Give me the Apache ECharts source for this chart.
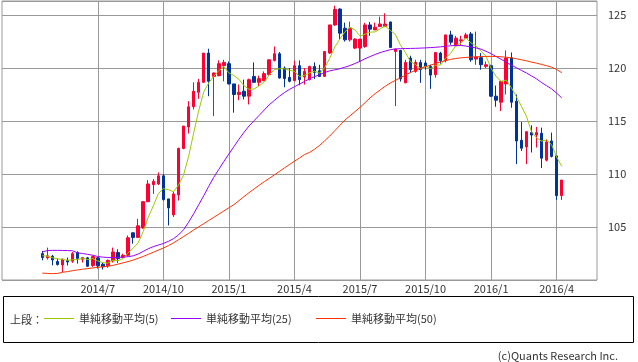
<!DOCTYPE html>
<html><head><meta charset="utf-8">
<script src="https://cdn.jsdelivr.net/npm/echarts@6/dist/echarts.min.js"></script>
<style>html,body{margin:0;padding:0;background:#fff}#c{width:638px;height:362px}</style>
</head><body><div id="c"></div>
<script>
// ---- data (weekly candles) ----
const tickIndex = [11, 24, 37, 50, 63, 76, 89, 102];
const tickLabels = ['2014/7', '2014/10', '2015/1', '2015/4', '2015/7', '2015/10', '2016/1', '2016/4'];

const open = [
102.49,102.09,102.24,101.74,101.41,101.84,101.77,102.59,101.96,102.09,
101.37,102.09,101.49,101.34,101.81,102.59,102.12,102.33,104.46,104.02,
104.91,107.40,109.00,109.07,109.84,107.66,106.15,108.03,112.42,114.45,
116.36,117.73,118.67,121.43,119.23,119.30,120.24,120.43,118.52,117.52,
117.83,117.36,119.23,118.67,118.83,119.39,120.74,121.37,120.02,119.14,
118.83,120.24,119.18,118.92,120.17,119.77,119.23,121.43,124.09,125.59,
123.78,122.68,121.90,121.90,122.05,124.09,123.62,123.93,123.93,124.37,
121.58,121.68,118.62,120.96,119.70,120.55,120.49,120.17,119.39,121.43,
120.71,123.15,122.12,122.59,122.84,123.24,120.87,121.00,120.17,120.24,
117.36,116.79,118.52,120.99,116.89,113.20,112.57,113.92,113.69,113.85,
111.32,113.13,111.72,107.97];
const close = [
102.12,102.28,101.90,101.46,101.98,101.70,102.49,102.04,102.12,101.30,
102.21,101.34,101.24,101.86,102.65,102.02,102.33,103.99,104.02,105.12,
107.40,109.07,109.32,109.84,107.59,106.81,108.13,112.42,114.54,116.36,
117.83,118.67,121.43,118.77,119.55,120.43,120.55,118.52,117.52,117.73,
117.36,118.92,118.67,119.02,119.49,120.80,121.37,119.08,119.02,118.77,
120.24,118.92,119.70,120.17,119.61,119.23,121.58,124.09,125.56,123.31,
122.68,123.78,122.75,122.75,124.09,123.69,123.87,124.18,124.18,121.96,
121.81,118.99,120.55,119.86,120.55,119.86,120.15,119.35,121.49,120.71,
123.15,122.46,122.84,122.68,123.15,120.80,121.06,120.33,120.33,117.36,
116.98,118.77,120.96,116.79,113.13,112.45,114.01,113.69,113.92,111.51,
113.04,111.67,107.97,109.44];
const low = [
101.86,101.93,101.39,101.37,100.75,101.37,101.62,101.55,101.65,101.24,
101.24,101.08,100.99,101.15,101.65,101.62,102.02,102.24,103.43,104.02,
104.84,107.35,108.13,108.97,107.50,105.15,105.95,107.50,112.35,113.83,
116.11,117.11,118.60,117.36,115.48,119.23,118.77,118.46,115.80,116.98,
117.05,116.58,118.67,118.30,118.77,119.30,120.64,119.02,118.20,118.67,
118.77,118.39,118.46,118.86,118.99,119.18,119.18,121.37,124.00,122.68,
122.52,122.52,121.81,120.64,121.93,123.06,123.62,123.90,123.90,121.96,
116.42,118.74,118.62,119.58,119.58,118.62,119.86,118.05,119.11,120.43,
120.55,122.21,122.05,122.21,122.78,120.61,120.33,119.86,120.02,117.30,
116.36,115.95,117.52,116.27,110.94,112.19,110.94,112.04,112.51,110.57,
111.20,111.57,107.56,107.56];
const high = [
102.75,103.06,102.37,102.02,101.98,102.12,102.65,102.71,102.18,102.18,
102.30,102.18,101.62,101.93,103.06,102.90,102.49,104.21,104.46,105.78,
107.40,109.44,109.53,110.16,110.00,107.66,108.34,112.51,114.54,116.89,
118.67,118.99,121.43,121.84,119.61,120.74,120.80,120.64,118.52,118.46,
118.92,119.02,120.55,119.30,119.70,120.80,122.05,121.53,120.17,120.02,
120.71,120.74,120.02,120.24,120.55,120.33,121.58,124.09,125.90,125.66,
124.31,124.40,122.84,122.75,124.28,124.37,124.31,124.87,125.19,124.40,
121.81,121.74,120.80,121.18,120.80,120.80,120.71,120.33,121.49,121.55,
123.15,123.53,123.06,123.06,123.34,123.43,123.46,121.43,120.64,120.33,
118.36,118.77,121.68,121.49,117.52,114.92,114.01,114.61,114.45,114.39,
113.29,113.92,111.79,109.44];
const ma5 = [
102.30,102.25,102.10,102.00,101.95,101.86,101.91,101.93,102.07,101.93,
102.03,101.80,101.64,101.59,101.86,101.82,102.02,102.57,103.00,103.50,
104.57,105.92,106.99,108.15,108.64,108.53,108.34,108.96,109.90,111.65,
113.86,115.96,117.77,118.61,119.25,119.77,120.15,119.56,119.31,118.95,
118.34,118.01,118.04,118.34,118.69,119.38,119.87,119.95,119.95,119.81,
119.70,119.21,119.33,119.56,119.73,119.53,120.06,120.94,122.01,122.75,
123.44,123.88,123.62,123.05,123.21,123.41,123.43,123.72,124.00,123.58,
123.20,122.22,121.50,120.63,120.35,119.96,120.19,119.95,120.28,120.31,
120.97,121.43,122.13,122.37,122.86,122.39,122.11,121.60,121.13,119.98,
119.21,118.75,118.88,118.17,117.33,116.42,115.47,114.01,113.44,113.12,
113.23,112.77,111.62,110.73];
const ma25 = [
102.65,102.78,102.80,102.80,102.79,102.78,102.76,102.56,102.50,102.42,
102.34,102.22,102.16,102.13,102.12,102.14,102.16,102.20,102.28,102.45,
102.70,102.95,103.15,103.30,103.45,103.65,103.90,104.25,104.75,105.45,
106.25,107.10,107.95,108.85,109.70,110.45,111.20,111.90,112.60,113.30,
113.95,114.55,115.05,115.55,116.05,116.55,116.95,117.35,117.70,118.00,
118.25,118.50,118.75,119.00,119.20,119.40,119.60,119.75,119.85,119.95,
120.10,120.25,120.45,120.65,120.90,121.10,121.30,121.48,121.62,121.75,
121.82,121.85,121.86,121.87,121.88,121.90,121.92,121.95,121.98,122.02,
122.08,122.12,122.15,122.15,122.10,122.00,121.92,121.80,121.60,121.38,
121.10,120.85,120.55,120.30,120.05,119.80,119.55,119.28,119.00,118.65,
118.35,118.05,117.65,117.20];
const ma50 = [
100.65,100.62,100.60,100.62,100.72,100.80,100.88,100.95,101.02,101.08,
101.14,101.20,101.25,101.30,101.38,101.50,101.62,101.74,101.88,102.05,
102.22,102.42,102.62,102.82,103.02,103.24,103.50,103.80,104.10,104.40,
104.72,105.02,105.32,105.62,105.92,106.22,106.52,106.82,107.12,107.50,
107.88,108.25,108.60,108.95,109.28,109.60,109.92,110.25,110.58,110.90,
111.22,111.52,111.85,112.05,112.35,112.72,113.15,113.60,114.10,114.60,
115.10,115.50,115.90,116.30,116.75,117.20,117.60,117.95,118.30,118.60,
118.85,119.10,119.35,119.60,119.80,120.00,120.15,120.30,120.45,120.60,
120.72,120.84,120.92,120.98,121.02,121.05,121.08,121.10,121.12,121.12,
121.11,121.08,121.04,120.98,120.90,120.80,120.70,120.58,120.48,120.36,
120.24,120.10,119.88,119.58];

const seriesNames = ['単純移動平均(5)', '単純移動平均(25)', '単純移動平均(50)'];
const seriesColors = ['#99cc00', '#9900ff', '#ff3300'];

// ---- build ----
const PAD_LEFT = 8, PAD_RIGHT = 7;
const n = open.length;
const total = PAD_LEFT + n + PAD_RIGHT;
const cats = Array.from({length: total}, (_, s) => 'w' + (s - PAD_LEFT));
const isTick = s => tickIndex.indexOf(s - PAD_LEFT) >= 0;
const candleData = Array.from({length: PAD_LEFT}, () => ['-', '-', '-', '-'])
  .concat(open.map((o, i) => [o, close[i], low[i], high[i]]));
const padLine = arr => Array(PAD_LEFT).fill('-').concat(arr);
const FONT = "'Noto Sans CJK JP', sans-serif";

const chart = echarts.init(document.getElementById('c'), null, {renderer: 'canvas'});
const lineSeries = [ma5, ma25, ma50].map((arr, k) => ({
  name: seriesNames[k], type: 'line', data: padLine(arr), symbol: 'none',
  lineStyle: {color: seriesColors[k], width: 1}, itemStyle: {color: seriesColors[k]},
  z: 3, silent: true
}));
const legends = seriesNames.map((nm, k) => ({
  data: [nm], left: [44, 171, 316][k], top: 313, icon: 'rect', itemWidth: 30, itemHeight: 1,
  padding: 0, selectedMode: false,
  textStyle: {fontFamily: FONT, fontSize: 11, color: '#333'}
}));
chart.setOption({
  animation: false,
  grid: {left: 2, top: 1, width: 595, height: 279, show: true, borderColor: '#999', borderWidth: 1, containLabel: false},
  xAxis: {
    type: 'category', data: cats, boundaryGap: false,
    axisLine: {show: false}, axisTick: {show: false},
    axisLabel: {
      interval: (s) => isTick(s),
      formatter: (v, s) => { const k = tickIndex.indexOf(s - PAD_LEFT); return k >= 0 ? tickLabels[k] : ''; },
      fontFamily: FONT, fontSize: 11, color: '#333', margin: 3
    },
    splitLine: {show: true, interval: (s) => isTick(s), lineStyle: {color: '#999', width: 1}}
  },
  yAxis: {
    type: 'value', position: 'right', min: 100, max: 126.35, interval: 5, scale: true,
    axisLine: {show: false}, axisTick: {show: false},
    axisLabel: {showMinLabel: false, showMaxLabel: false, margin: 11, fontFamily: FONT, fontSize: 11, color: '#333'},
    splitLine: {lineStyle: {color: '#999', width: 1}}
  },
  legend: legends,
  graphic: [
    {type: 'rect', shape: {x: 3.5, y: 296.5, width: 630, height: 46}, style: {fill: 'none', stroke: '#000', lineWidth: 1}, silent: true},
    {type: 'text', x: 10, y: 320, style: {text: '上段：', fontFamily: FONT, fontSize: 11, fill: '#333', verticalAlign: 'middle'}},
    {type: 'text', x: 618, y: 356, style: {text: '(c)Quants Research Inc.', fontFamily: FONT, fontSize: 11, fill: '#333', align: 'right', verticalAlign: 'middle'}}
  ],
  series: [{
    type: 'candlestick', data: candleData, barWidth: 3, silent: true,
    itemStyle: {color: '#ff0033', color0: '#003399', borderColor: '#ff0033', borderColor0: '#003399', borderWidth: 1}
  }].concat(lineSeries)
});
</script></body></html>
